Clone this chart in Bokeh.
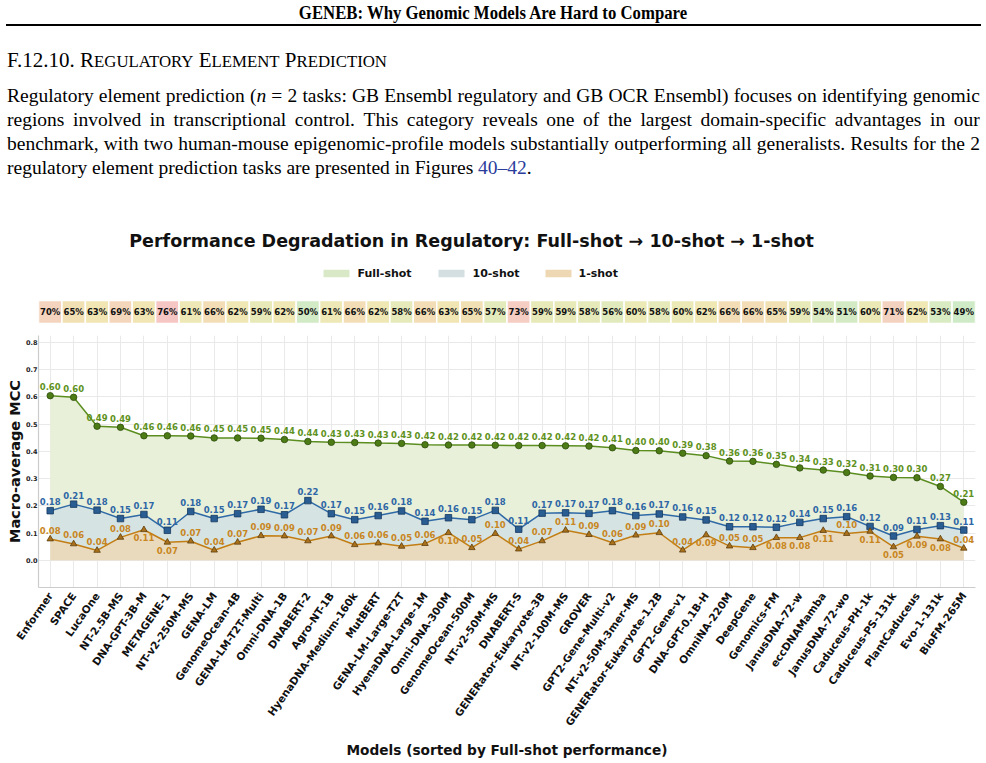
import math

from bokeh.core.properties import value
from bokeh.embed import file_html
from bokeh.layouts import column
from bokeh.models import Div, FixedTicker, PrintfTickFormatter, Range1d
from bokeh.plotting import figure
from bokeh.resources import INLINE

# ---------------------------------------------------------------- data
models = [
    "Enformer", "SPACE", "LucaOne", "NT-2.5B-MS", "DNA-GPT-3B-M", "METAGENE-1",
    "NT-v2-250M-MS", "GENA-LM", "GenomeOcean-4B", "GENA-LM-T2T-Multi", "Omni-DNA-1B",
    "DNABERT-2", "Agro-NT-1B", "HyenaDNA-Medium-160k", "MutBERT", "GENA-LM-Large-T2T",
    "HyenaDNA-Large-1M", "Omni-DNA-300M", "GenomeOcean-500M", "NT-v2-50M-MS",
    "DNABERT-S", "GENERator-Eukaryote-3B", "NT-v2-100M-MS", "GROVER",
    "GPT2-Gene-Multi-v2", "NT-v2-50M-3mer-MS", "GENERator-Eukaryote-1.2B",
    "GPT2-Gene-v1", "DNA-GPT-0.1B-H", "OmniNA-220M", "DeepGene", "Genomics-FM",
    "JanusDNA-72-w", "eccDNAMamba", "JanusDNA-72-wo", "Caduceus-PH-1k",
    "Caduceus-PS-131k", "PlantCaduceus", "Evo-1-131k", "BioFM-265M",
]

full_shot = [
    0.604, 0.598, 0.492, 0.488, 0.457, 0.457, 0.456, 0.449, 0.449, 0.448,
    0.443, 0.436, 0.433, 0.432, 0.430, 0.429, 0.424, 0.423, 0.423, 0.422,
    0.421, 0.421, 0.420, 0.419, 0.413, 0.403, 0.402, 0.393, 0.384, 0.364,
    0.363, 0.352, 0.339, 0.331, 0.322, 0.309, 0.304, 0.303, 0.271, 0.213,
]

ten_shot = [
    0.182, 0.206, 0.184, 0.153, 0.168, 0.110, 0.179, 0.153, 0.171, 0.187,
    0.167, 0.219, 0.171, 0.149, 0.164, 0.181, 0.143, 0.156, 0.149, 0.183,
    0.114, 0.173, 0.174, 0.172, 0.182, 0.164, 0.170, 0.159, 0.148, 0.123,
    0.123, 0.121, 0.139, 0.153, 0.160, 0.124, 0.089, 0.113, 0.127, 0.111,
]

one_shot = [
    0.078, 0.060, 0.036, 0.084, 0.112, 0.066, 0.070, 0.037, 0.066, 0.090,
    0.089, 0.071, 0.089, 0.057, 0.063, 0.051, 0.061, 0.101, 0.046, 0.098,
    0.041, 0.071, 0.110, 0.094, 0.064, 0.092, 0.101, 0.037, 0.093, 0.052,
    0.046, 0.083, 0.083, 0.109, 0.098, 0.106, 0.049, 0.088, 0.078, 0.044,
]

# relative drop from full-shot to 10-shot, in percent
degradation_pct = [
    70, 65, 63, 69, 63, 76, 61, 66, 62, 59, 62, 50, 61, 66, 62, 58, 66, 63, 65, 57,
    73, 59, 59, 58, 56, 60, 58, 60, 62, 66, 66, 65, 59, 54, 51, 60, 71, 62, 53, 49,
]

y_ticks = [0.0, 0.1, 0.2, 0.3, 0.4, 0.5, 0.6, 0.7, 0.8]

# ---------------------------------------------------------------- styling
FONT = value("DejaVu Sans")
FULL_LINE, FULL_DOT, FULL_EDGE, FULL_TXT, FULL_FILL, FULL_KEY = (
    "#5b8e1f", "#4d7c16", "#2d4c0b", "#5f9222", "#e8f0da", "#d9e8c6")
TEN_LINE, TEN_DOT, TEN_EDGE, TEN_TXT, TEN_FILL, TEN_KEY = (
    "#2f6aa6", "#2a5d92", "#163a60", "#2e67a5", "#d6e3e3", "#d3dfe0")
ONE_LINE, ONE_DOT, ONE_EDGE, ONE_TXT, ONE_FILL, ONE_KEY = (
    "#c27e14", "#a9711b", "#5e3d0d", "#c8861e", "#eadabd", "#eed8b3")

# colour ramp for the degradation strip (green = small drop, red = large drop)
RAMP = [
    (48, (0xcd, 0xe9, 0xc6)), (52, (0xd6, 0xeb, 0xc4)), (56, (0xe0, 0xea, 0xbd)),
    (60, (0xeb, 0xe9, 0xb6)), (63, (0xf1, 0xe6, 0xb3)), (66, (0xf3, 0xdd, 0xb6)),
    (70, (0xf4, 0xd4, 0xbf)), (76, (0xf6, 0xc6, 0xc4)),
]


def ramp_color(p):
    if p <= RAMP[0][0]:
        c = RAMP[0][1]
    elif p >= RAMP[-1][0]:
        c = RAMP[-1][1]
    else:
        for (p0, c0), (p1, c1) in zip(RAMP[:-1], RAMP[1:]):
            if p0 <= p <= p1:
                t = (p - p0) / (p1 - p0)
                c = tuple(round(a + (b - a) * t) for a, b in zip(c0, c1))
                break
    return "#%02x%02x%02x" % c


n = len(models)
idx = list(range(n))

# geometry of the plotting area shared by the strip and the main chart
PAGE_W = 986
LEFT, RIGHT = 38, 11
FRAME_W = PAGE_W - LEFT - RIGHT
HEAD_H, TOP_H, MAIN_H = 205, 130, 428

x_range = Range1d(-0.5, n - 0.5)


def strip_x(px):
    """page pixel -> data x of the shared range"""
    return (px - LEFT) / FRAME_W * n - 0.5


def strip_y(py):
    """page pixel -> data y of the strip figure (1 unit = 1 px)"""
    return TOP_H - (py - HEAD_H)


# ---------------------------------------------------------------- page header
def justified(words, top):
    spans = "".join(f"<span>{w}</span>" for w in words)
    return (f'<div style="position:absolute;left:7px;top:{top}px;width:973px;'
            f'display:flex;justify-content:space-between;white-space:nowrap;'
            f'font-size:19.5px;line-height:24px;">{spans}</div>')


line1 = ("Regulatory element prediction (<i>n</i> = 2 tasks: GB Ensembl regulatory "
         "and GB OCR Ensembl) focuses on identifying genomic").split(" ")
line2 = ("regions involved in transcriptional control. This category reveals one "
         "of the largest domain-specific advantages in our").split(" ")
line3 = ("benchmark, with two human-mouse epigenomic-profile models substantially "
         "outperforming all generalists. Results for the 2").split(" ")

sc = 'style="font-size:0.8em"'
header_html = (
    '<div style="position:relative;width:986px;height:205px;'
    "font-family:'Liberation Serif',serif;color:#000;\">"
    '<div style="position:absolute;left:0;top:2px;width:986px;text-align:center;'
    'font-weight:bold;font-size:18px;line-height:22px;transform:scaleX(0.93);">'
    "GENEB: Why Genomic Models Are Hard to Compare</div>"
    '<div style="position:absolute;left:6px;top:24px;width:975px;height:2px;background:#000;"></div>'
    '<div style="position:absolute;left:7px;top:48px;font-size:21px;line-height:24px;white-space:nowrap;">'
    f"F.12.10. R<span {sc}>EGULATORY</span> E<span {sc}>LEMENT</span> "
    f"P<span {sc}>REDICTION</span></div>"
    + justified(line1, 84) + justified(line2, 108) + justified(line3, 132)
    + '<div style="position:absolute;left:7px;top:156px;font-size:19.5px;line-height:24px;white-space:nowrap;">'
    'regulatory element prediction tasks are presented in Figures '
    '<span style="color:#2a3c9c">40–42</span>.</div>'
    "</div>"
)
header = Div(text=header_html, width=PAGE_W, height=HEAD_H, margin=0)

# ---------------------------------------------------------------- title, legend, degradation strip
top = figure(width=PAGE_W, height=TOP_H, x_range=x_range, y_range=Range1d(0, TOP_H),
             output_backend="svg", toolbar_location=None,
             x_axis_location=None, y_axis_location=None,
             min_border_left=LEFT, min_border_right=RIGHT,
             min_border_top=0, min_border_bottom=0, outline_line_color=None)
top.xgrid.grid_line_color = None
top.ygrid.grid_line_color = None

top.text(x=[strip_x(471)], y=[strip_y(240)],
         text=["Performance Degradation in Regulatory: Full-shot → 10-shot → 1-shot"],
         text_font=FONT, text_font_style="bold", text_font_size="17.5px",
         text_align="center", text_baseline="middle", text_color="#111111")

legend_names = ["Full-shot", "10-shot", "1-shot"]
legend_keys = [FULL_KEY, TEN_KEY, ONE_KEY]
legend_patch_px = [336, 451, 558]
legend_text_px = [357, 472, 578]
top.rect(x=[strip_x(p) for p in legend_patch_px], y=strip_y(273),
         width=26, height=7.5, width_units="screen", height_units="screen",
         fill_color=legend_keys, line_color=None)
top.text(x=[strip_x(p) for p in legend_text_px], y=[strip_y(273)] * 3, text=legend_names,
         text_font=FONT, text_font_style="bold", text_font_size="11px",
         text_align="left", text_baseline="middle", text_color="#111111")

strip_mid = strip_y(311.5)
top.rect(x=idx, y=strip_mid, width=1, height=23,
         fill_color=[ramp_color(p) for p in degradation_pct],
         line_color="white", line_width=1.5)
top.text(x=idx, y=[strip_mid] * n, text=[f"{p}%" for p in degradation_pct],
         text_font=FONT, text_font_style="bold", text_font_size="8.5px",
         text_align="center", text_baseline="middle", text_color="#111111")

# ---------------------------------------------------------------- main chart
p = figure(width=PAGE_W, height=MAIN_H, x_range=x_range, y_range=Range1d(-0.1, 0.825),
           output_backend="svg", toolbar_location=None,
           min_border_left=LEFT, min_border_right=RIGHT,
           min_border_top=0, min_border_bottom=176, outline_line_color=None)

# areas between the curves
p.varea(x=idx, y1=ten_shot, y2=full_shot, fill_color=FULL_FILL)
p.varea(x=idx, y1=one_shot, y2=ten_shot, fill_color=TEN_FILL)
p.varea(x=idx, y1=[0.0] * n, y2=one_shot, fill_color=ONE_FILL)

# series
p.line(idx, full_shot, line_color=FULL_LINE, line_width=1.5)
p.scatter(idx, full_shot, marker="circle", size=6.5, fill_color=FULL_DOT,
          line_color=FULL_EDGE, line_width=0.8)
p.line(idx, ten_shot, line_color=TEN_LINE, line_width=1.5)
p.scatter(idx, ten_shot, marker="square", size=6.5, fill_color=TEN_DOT,
          line_color=TEN_EDGE, line_width=0.8)
p.line(idx, one_shot, line_color=ONE_LINE, line_width=1.5)
p.scatter(idx, one_shot, marker="triangle", size=6.5, fill_color=ONE_DOT,
          line_color=ONE_EDGE, line_width=0.8)

label_kw = dict(text_font=FONT, text_font_style="bold", text_font_size="8.5px",
                text_align="center", text_baseline="middle")
p.text(idx, full_shot, text=[f"{v:.2f}" for v in full_shot],
       text_color=FULL_TXT, y_offset=-9, **label_kw)
p.text(idx, ten_shot, text=[f"{v:.2f}" for v in ten_shot],
       text_color=TEN_TXT, y_offset=-9, **label_kw)

# 1-shot labels go under the marker when the 10-shot point sits close above
one_below = [(t - o) < 0.06 for t, o in zip(ten_shot, one_shot)]
up_i = [i for i in idx if not one_below[i]]
dn_i = [i for i in idx if one_below[i]]
p.text(up_i, [one_shot[i] for i in up_i],
       text=[f"{one_shot[i]:.2f}" for i in up_i], text_color=ONE_TXT, y_offset=-9, **label_kw)
p.text(dn_i, [one_shot[i] for i in dn_i],
       text=[f"{one_shot[i]:.2f}" for i in dn_i], text_color=ONE_TXT, y_offset=8, **label_kw)

# axes
xa = p.xaxis[0]
xa.ticker = FixedTicker(ticks=idx)
xa.major_label_overrides = {i: m for i, m in enumerate(models)}
xa.major_label_orientation = math.radians(55)
xa.major_label_text_font = "DejaVu Sans"
xa.major_label_text_font_style = "bold"
xa.major_label_text_font_size = "10.5px"
xa.major_label_text_color = "#111111"
xa.major_label_standoff = 6
xa.axis_label = "Models (sorted by Full-shot performance)"
xa.axis_label_text_font = "DejaVu Sans"
xa.axis_label_text_font_style = "bold"
xa.axis_label_text_font_size = "13.7px"
xa.axis_label_text_color = "#111111"
xa.axis_label_standoff = 8

ya = p.yaxis[0]
ya.ticker = FixedTicker(ticks=y_ticks)
ya.formatter = PrintfTickFormatter(format="%.1f")
ya.major_label_text_font = "DejaVu Sans"
ya.major_label_text_font_style = "bold"
ya.major_label_text_font_size = "6.5px"
ya.major_label_text_color = "#222222"
ya.major_label_standoff = 1
ya.axis_label = "Macro-average MCC"
ya.axis_label_text_font = "DejaVu Sans"
ya.axis_label_text_font_style = "bold"
ya.axis_label_text_font_size = "14.5px"
ya.axis_label_text_color = "#111111"
ya.axis_label_standoff = 0

for ax in (xa, ya):
    ax.axis_line_color = "#cccccc"
    ax.axis_line_width = 1.2
    ax.major_tick_line_color = None
    ax.minor_tick_line_color = None
    ax.major_tick_out = 0
    ax.major_tick_in = 0
    ax.minor_tick_out = 0
    ax.minor_tick_in = 0

p.xgrid.grid_line_color = "#e9e9e9"
p.ygrid.grid_line_color = "#e9e9e9"
p.xgrid.grid_line_width = 1
p.ygrid.grid_line_width = 1

layout = column(header, top, p, spacing=0)

open("out.html", "w").write(file_html(layout, INLINE, title="Regulatory element prediction"))
